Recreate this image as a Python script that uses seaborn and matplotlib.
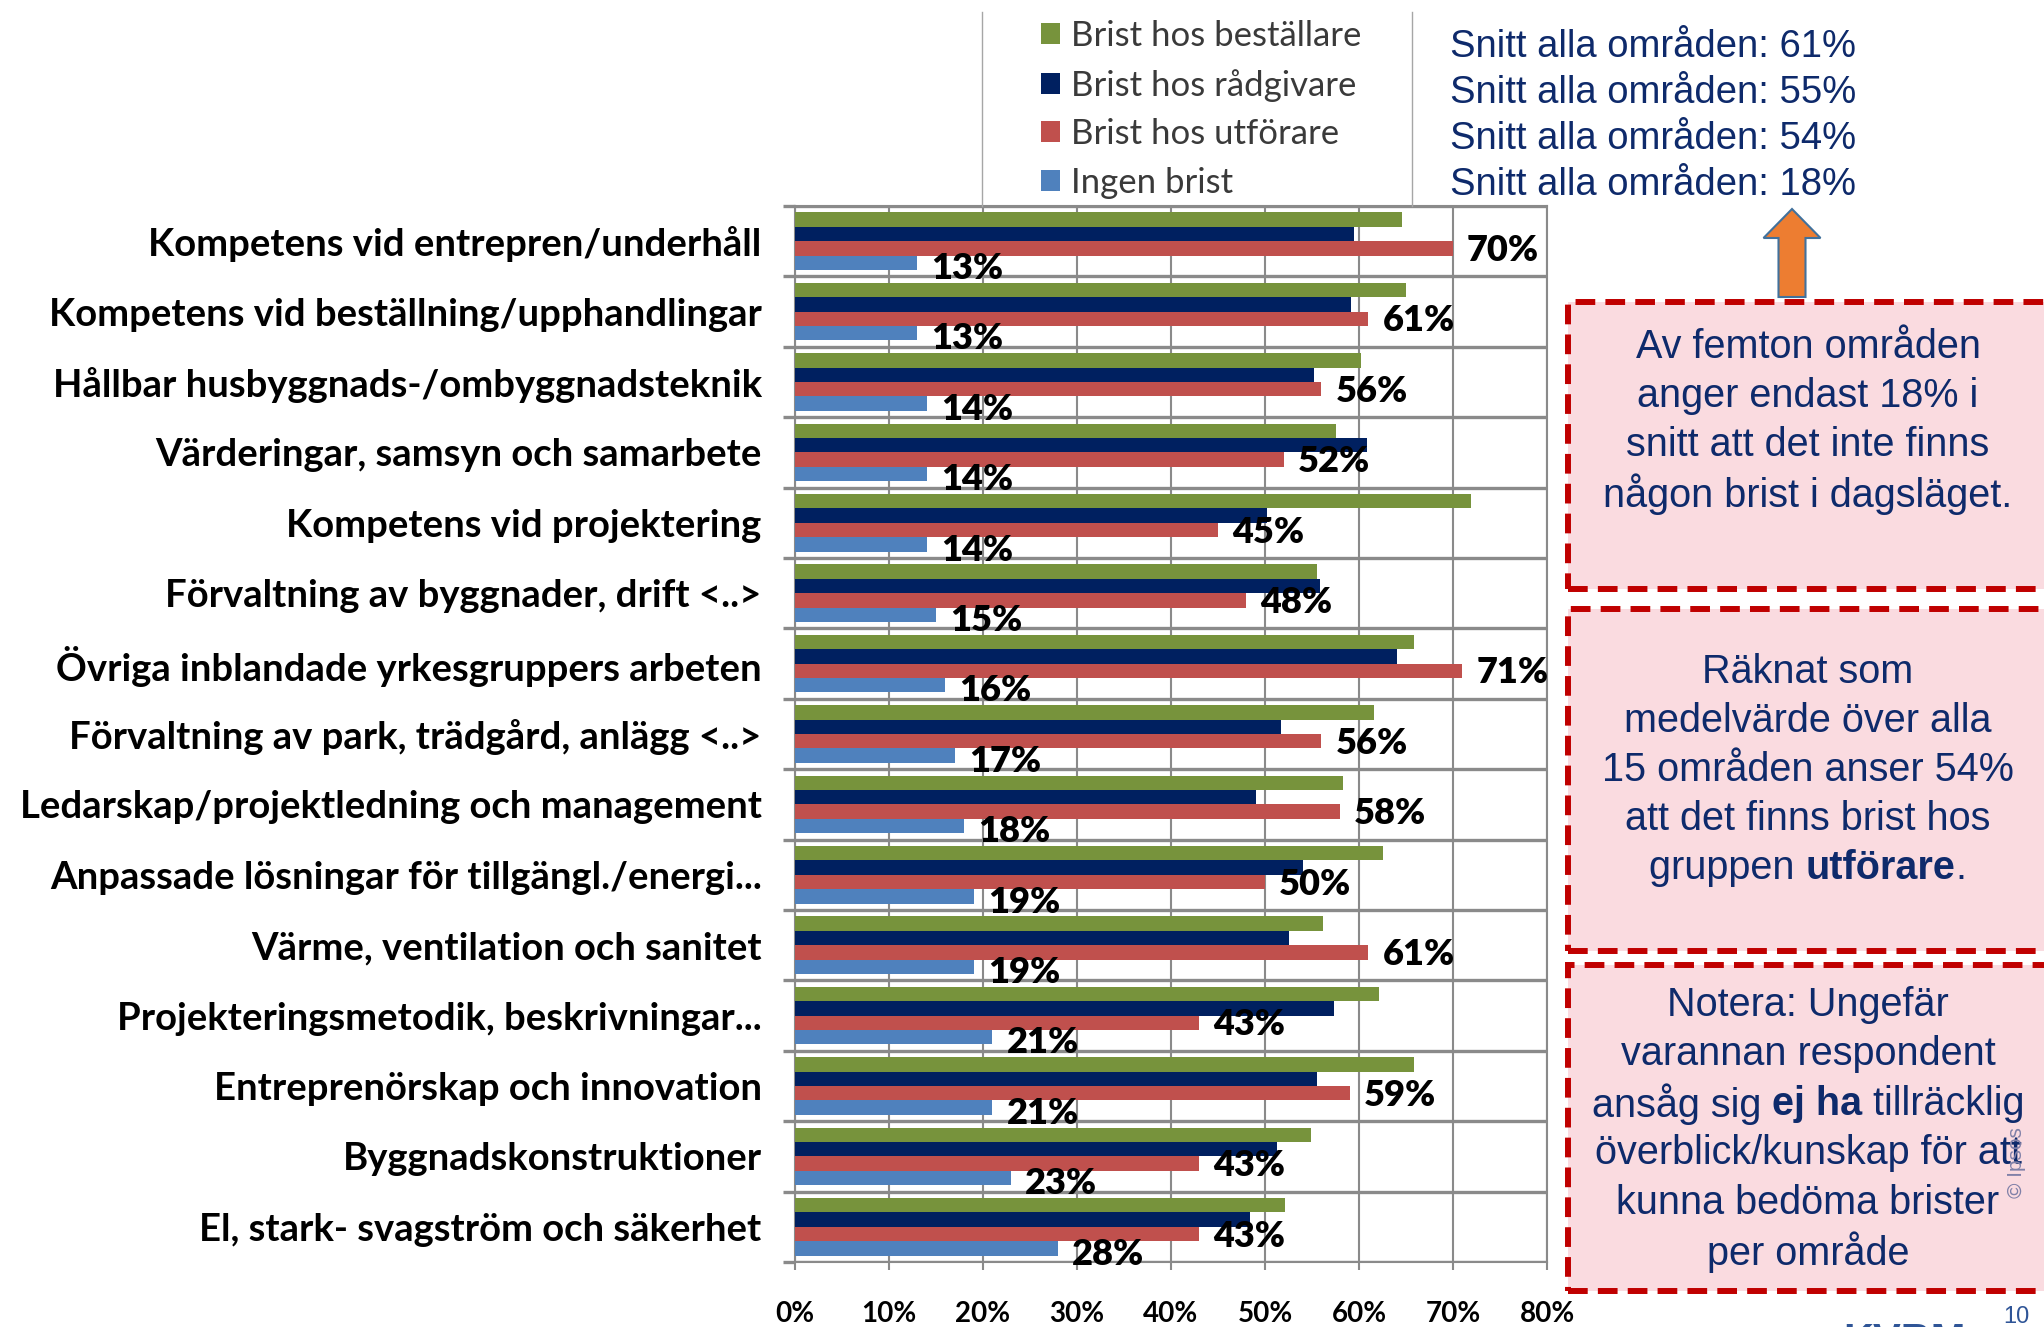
import numpy as np
import pandas as pd
import seaborn as sns
import matplotlib.pyplot as plt
from matplotlib.patches import Patch, Rectangle, FancyArrow
from matplotlib.lines import Line2D

# ---- data ----
areas = [
    "Kompetens vid entrepren/underhåll",
    "Kompetens vid beställning/upphandlingar",
    "Hållbar husbyggnads-/ombyggnadsteknik",
    "Värderingar, samsyn och samarbete",
    "Kompetens vid projektering",
    "Förvaltning av byggnader, drift <..>",
    "Övriga inblandade yrkesgruppers arbeten",
    "Förvaltning av park, trädgård, anlägg <..>",
    "Ledarskap/projektledning och management",
    "Anpassade lösningar för tillgängl./energi...",
    "Värme, ventilation och sanitet",
    "Projekteringsmetodik, beskrivningar...",
    "Entreprenörskap och innovation",
    "Byggnadskonstruktioner",
    "El, stark- svagström och säkerhet",
]
groups = ["Brist hos beställare", "Brist hos rådgivare", "Brist hos utförare", "Ingen brist"]
bestallare = [64.6, 65.0, 60.2, 57.6, 71.9, 55.5, 65.9, 61.6, 58.3, 62.5, 56.2, 62.1, 65.9, 54.9, 52.1]
radgivare = [59.5, 59.2, 55.2, 60.8, 50.2, 55.9, 64.0, 51.7, 49.0, 54.0, 52.6, 57.3, 55.5, 51.3, 48.4]
utforare = [70, 61, 56, 52, 45, 48, 71, 56, 58, 50, 61, 43, 59, 43, 43]
ingen_brist = [13, 13, 14, 14, 14, 15, 16, 17, 18, 19, 19, 21, 21, 23, 28]
snitt = [61, 55, 54, 18]
x_ticks = [0, 10, 20, 30, 40, 50, 60, 70, 80]

colors = ["#77933C", "#002060", "#C0504D", "#4F81BD"]
navy_text = "#0E2A6B"

df = pd.DataFrame({
    "area": areas * 4,
    "group": np.repeat(groups, len(areas)),
    "value": bestallare + radgivare + utforare + ingen_brist,
})

W, H = 2044, 1327
fx = lambda px: px / W
fy = lambda py: 1 - py / H

fig = plt.figure(figsize=(W / 100, H / 100), dpi=100)
ax = fig.add_axes([fx(795), fy(1262), fx(1547) - fx(795), fy(206) - fy(1262)])

sns.barplot(data=df, x="value", y="area", hue="group", hue_order=groups,
            order=areas, palette=colors, saturation=1, width=0.82,
            orient="h", legend=False, linewidth=0, ax=ax, zorder=3)

grid_c = "#8A8A8A"
ax.set_xlim(0, 80)
ax.set_ylim(len(areas) - 0.5, -0.5)
ax.set_xticks(x_ticks)
ax.set_xticklabels([f"{t}%" for t in x_ticks], fontfamily="Lato",
                   fontweight="bold", fontsize=20)
ax.set_yticks(range(len(areas)))
ax.set_yticklabels(areas, fontfamily="Lato", fontweight="bold", fontsize=27.5)
ax.set_yticks(np.arange(-0.5, len(areas), 1), minor=True)
ax.set_xlabel("")
ax.set_ylabel("")
ax.tick_params(axis="y", which="major", length=0, pad=24)
ax.tick_params(axis="y", which="minor", length=9, width=2.4, color=grid_c)
ax.tick_params(axis="x", length=6, width=1.5, color=grid_c, pad=22)
ax.grid(axis="x", color=grid_c, lw=1.5, zorder=1)
ax.grid(axis="y", which="minor", color=grid_c, lw=2.4, zorder=1)
ax.set_axisbelow(True)
for s in ax.spines.values():
    s.set_color(grid_c)
    s.set_linewidth(1.5)

# value labels for utförare and ingen brist
for cont, vals, dy in [(ax.containers[2], utforare, 0.03), (ax.containers[3], ingen_brist, 0.08)]:
    for p, v in zip(cont.patches, vals):
        ax.text(p.get_width() + 1.5, p.get_y() + p.get_height() / 2 + dy, f"{v}%",
                ha="left", va="center", fontfamily="Lato", fontweight="heavy",
                fontsize=26, color="black", zorder=5)

# legend
handles = [Patch(facecolor=c, edgecolor="none") for c in colors]
fig.legend(handles, groups, loc="upper left", bbox_to_anchor=(fx(1041), fy(20)),
           frameon=False, prop={"family": "Lato", "size": 25},
           handlelength=0.55, handleheight=0.55, handletextpad=0.3,
           labelspacing=0.48, borderpad=0, borderaxespad=0, labelcolor="#3A3A3A")
for xl in (982, 1412):
    fig.add_artist(Line2D([fx(xl), fx(xl)], [fy(12), fy(206)], color="#A6A6A6", lw=1))

# averages
for i, v in enumerate(snitt):
    fig.text(fx(1450), fy(47 + i * 46), f"Snitt alla områden: {v}%", ha="left",
             va="center", fontfamily="Liberation Sans", fontsize=27.5, color=navy_text)

# arrow
fig.patches.append(FancyArrow(17.92, (H - 297) / 100, 0, (297 - 209) / 100,
                              width=0.27, head_width=0.57, head_length=0.29,
                              length_includes_head=True, facecolor="#ED7D31",
                              edgecolor="#41719C", lw=1.5,
                              transform=fig.dpi_scale_trans, figure=fig))

# note boxes
for top, bot in [(302, 589), (609, 951), (965, 1291)]:
    fig.patches.append(Rectangle((fx(1568), fy(bot)), fx(2110) - fx(1568), fy(top) - fy(bot),
                                 transform=fig.transFigure, facecolor="#FADBE0",
                                 edgecolor="#C00000", lw=4.3, linestyle=(0, (3.3, 1.7)),
                                 figure=fig))

box_font = dict(fontfamily="Liberation Sans", fontsize=28.5, color=navy_text, va="center")
renderer = fig.canvas.get_renderer()


def note_line(y, parts, xc=1808):
    texts = [fig.text(0, fy(y), s, fontweight=w, ha="left", **box_font) for s, w in parts]
    widths = [t.get_window_extent(renderer).width for t in texts]
    x = xc - sum(widths) / 2
    for t, wd in zip(texts, widths):
        t.set_x(fx(x))
        x += wd


box1 = ["Av femton områden", "anger endast 18% i", "snitt att det inte finns",
        "någon brist i dagsläget."]
for i, s in enumerate(box1):
    note_line(347 + i * 49, [(s, "normal")])

box2 = [[("Räknat som", "normal")], [("medelvärde över alla", "normal")],
        [("15 områden anser 54%", "normal")], [("att det finns brist hos", "normal")],
        [("gruppen ", "normal"), ("utförare", "bold"), (".", "normal")]]
for i, parts in enumerate(box2):
    note_line(672 + i * 49, parts)

box3 = [[("Notera: Ungefär", "normal")], [("varannan respondent", "normal")],
        [("ansåg sig ", "normal"), ("ej ha", "bold"), (" tillräcklig", "normal")],
        [("överblick/kunskap för att", "normal")], [("kunna bedöma brister", "normal")],
        [("per område", "normal")]]
for i, parts in enumerate(box3):
    note_line(1005 + i * 49.4, parts)

fig.text(fx(2016), fy(1163), "© Ipsos", rotation=90, ha="center", va="center",
         fontfamily="Liberation Sans", fontsize=15, color="#8080A8")
fig.text(fx(1843), fy(1322), "KVBM", ha="left", va="top", fontfamily="Liberation Sans",
         fontweight="bold", fontsize=30, color="#2F5597")
fig.text(fx(2003), fy(1306), "10", ha="left", va="top", fontfamily="Liberation Sans",
         fontsize=17, color="#2F5597")

fig.savefig("out.png", dpi=100)
